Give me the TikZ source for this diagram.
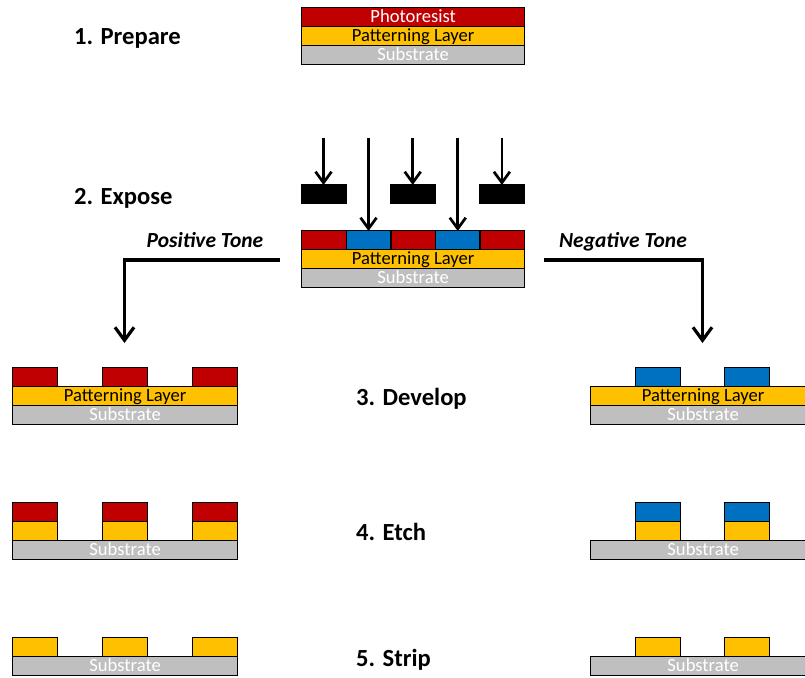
\documentclass[tikz,border=0pt]{standalone}
\usepackage{fontspec}
\setmainfont{Carlito}
\usetikzlibrary{arrows.meta}
\definecolor{resist}{HTML}{C00000}
\definecolor{player}{HTML}{FFC000}
\definecolor{subst}{HTML}{BFBFBF}
\definecolor{expo}{HTML}{0070C0}
\tikzset{
  lay/.style={draw=black, line width=1.3pt, inner sep=0pt, minimum height=19pt,
    anchor=north west, text height=13pt, text depth=2pt,
    font=\fontsize{18.6}{18.6}\selectfont},
  resistlay/.style={lay, fill=resist, text=white},
  patlay/.style={lay, fill=player, text=black},
  sublay/.style={lay, fill=subst, text=white},
  wide/.style={minimum width=225pt},
  blk/.style={minimum width=45pt},
  seg/.style={minimum width=44.6pt},
  maskblk/.style={draw=black, fill=black, inner sep=0pt, minimum width=44.6pt, minimum height=19pt, anchor=north west},
  steplabel/.style={anchor=base west, inner sep=0pt, font=\fontsize{24.6}{24.6}\selectfont\bfseries},
  tonelabel/.style={anchor=base, inner sep=0pt, font=\fontsize{21.5}{21.5}\selectfont\bfseries\itshape},
  lightarrow/.style={line width=2.7pt, -{Straight Barb[length=11pt,width=16pt]}},
  tonearrow/.style={line width=3.2pt, -{Straight Barb[length=13pt,width=19pt]}},
}
\begin{document}
\begin{tikzpicture}[x=1pt,y=-1pt]
\clip (0,0) rectangle (805,677);
\fill[white] (0,0) rectangle (805,677);

% Step labels
\node[steplabel] (l1) at (74,44.5) {1. Prepare};
\node[steplabel] (l2) at (74,204.5) {2. Expose};
\node[steplabel] (l3) at (356,405.5) {3. Develop};
\node[steplabel] (l4) at (356,540.5) {4. Etch};
\node[steplabel] (l5) at (356,666.5) {5. Strip};

% 1. Prepare
\node[resistlay, minimum width=223pt] (p1r) at (301,7) {Photoresist};
\node[patlay, minimum width=223pt] (p1p) at (301,26) {Patterning Layer};
\node[sublay, minimum width=223pt] (p1s) at (301,45) {Substrate};

% 2. Expose
\node[resistlay, seg] (e1) at (301,230) {};
\node[lay, seg, fill=expo] (e2) at (345.6,230) {};
\node[resistlay, seg] (e3) at (390.2,230) {};
\node[lay, seg, fill=expo] (e4) at (434.8,230) {};
\node[resistlay, seg] (e5) at (479.4,230) {};
\node[patlay, minimum width=223pt] (ep) at (301,249) {Patterning Layer};
\node[sublay, minimum width=223pt] (es) at (301,268) {Substrate};

\node[maskblk] (m1) at (301,184) {};
\node[maskblk] (m2) at (390.2,184) {};
\node[maskblk] (m3) at (479.4,184) {};

\coordinate (a1) at (m1.north |- 0,138);
\coordinate (a2) at (e2.north |- 0,138);
\coordinate (a3) at (m2.north |- 0,138);
\coordinate (a4) at (e4.north |- 0,138);
\coordinate (a5) at (m3.north |- 0,138);
\draw[lightarrow] (a1) -- ([yshift=-1pt]m1.north);
\draw[lightarrow] (a2) -- ([yshift=-1pt]e2.north);
\draw[lightarrow] (a3) -- ([yshift=-1pt]m2.north);
\draw[lightarrow] (a4) -- ([yshift=-1pt]e4.north);
\draw[lightarrow] (a5) -- ([yshift=-1pt]m3.north);

% Tone connectors
\node[tonelabel] (pos) at (205,247) {Positive Tone};
\node[tonelabel] (neg) at (623,247) {Negative Tone};
\coordinate (posStart) at (280,260);
\coordinate (posEnd) at (124.5,343);
\coordinate (negStart) at (544,260);
\coordinate (negEnd) at (702.5,343);
\draw[tonearrow] (posStart) -| (posEnd);
\draw[tonearrow] (negStart) -| (negEnd);

% 3. Develop - positive
\node[resistlay, blk] (dl1) at (12,367) {};
\node[resistlay, blk] (dl2) at (102,367) {};
\node[resistlay, blk] (dl3) at (192,367) {};
\node[patlay, wide] (dlp) at (12,386) {Patterning Layer};
\node[sublay, wide] (dls) at (12,405) {Substrate};
% 3. Develop - negative
\node[lay, blk, fill=expo] (dr1) at (635,367) {};
\node[lay, blk, fill=expo] (dr2) at (724,367) {};
\node[patlay, wide] (drp) at (590,386) {Patterning Layer};
\node[sublay, wide] (drs) at (590,405) {Substrate};

% 4. Etch - positive
\node[resistlay, blk] (tl1) at (12,502) {};
\node[resistlay, blk] (tl2) at (102,502) {};
\node[resistlay, blk] (tl3) at (192,502) {};
\node[patlay, blk] (tlp1) at (12,521) {};
\node[patlay, blk] (tlp2) at (102,521) {};
\node[patlay, blk] (tlp3) at (192,521) {};
\node[sublay, wide] (tls) at (12,540) {Substrate};
% 4. Etch - negative
\node[lay, blk, fill=expo] (tr1) at (635,502) {};
\node[lay, blk, fill=expo] (tr2) at (724,502) {};
\node[patlay, blk] (trp1) at (635,521) {};
\node[patlay, blk] (trp2) at (724,521) {};
\node[sublay, wide] (trs) at (590,540) {Substrate};

% 5. Strip - positive
\node[patlay, blk] (sl1) at (12,637) {};
\node[patlay, blk] (sl2) at (102,637) {};
\node[patlay, blk] (sl3) at (192,637) {};
\node[sublay, wide] (sls) at (12,656) {Substrate};
% 5. Strip - negative
\node[patlay, blk] (sr1) at (635,637) {};
\node[patlay, blk] (sr2) at (724,637) {};
\node[sublay, wide] (srs) at (590,656) {Substrate};
\end{tikzpicture}
\end{document}
